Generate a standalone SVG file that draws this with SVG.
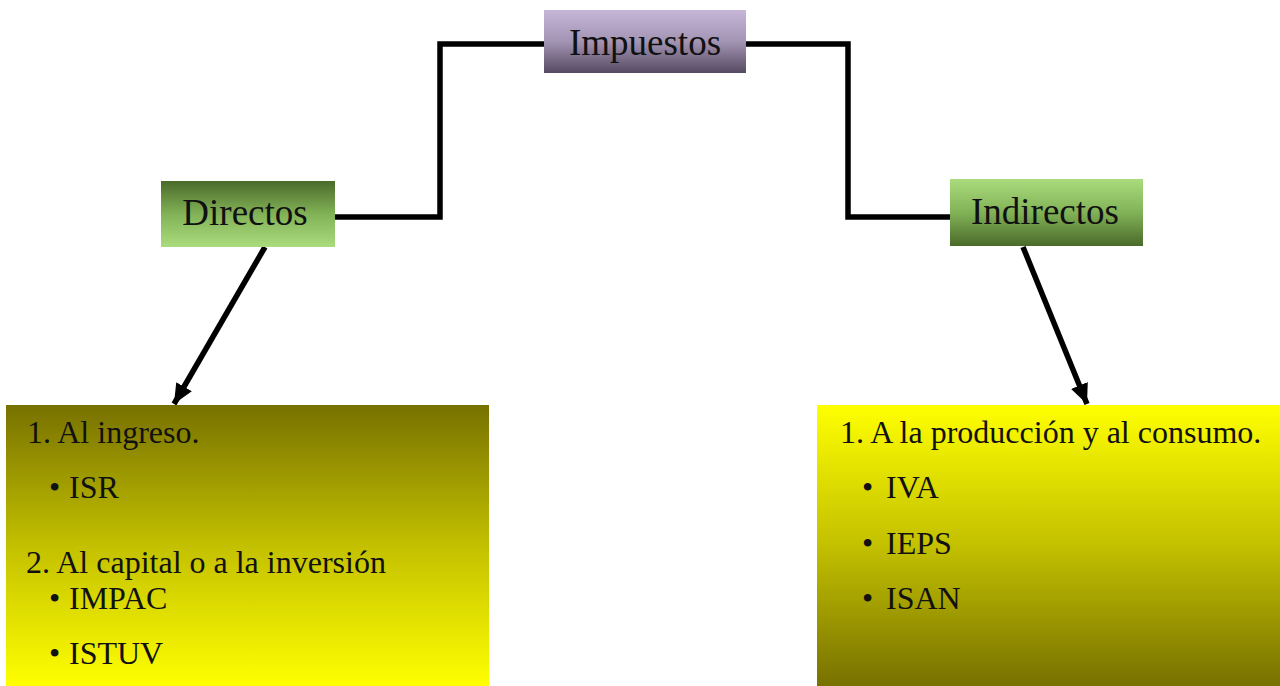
<svg xmlns="http://www.w3.org/2000/svg" width="1280" height="686" viewBox="0 0 1280 686">
<defs>
<linearGradient id="gPurple" x1="0" y1="0" x2="0" y2="1"><stop offset="0" stop-color="#c6b6d8"/><stop offset="0.5" stop-color="#a394b4"/><stop offset="1" stop-color="#564a62"/></linearGradient>
<linearGradient id="gGreenUp" x1="0" y1="0" x2="0" y2="1"><stop offset="0" stop-color="#4a6a2a"/><stop offset="0.5" stop-color="#82b257"/><stop offset="1" stop-color="#aadb7c"/></linearGradient>
<linearGradient id="gGreenDown" x1="0" y1="0" x2="0" y2="1"><stop offset="0" stop-color="#aadb7c"/><stop offset="0.5" stop-color="#82b257"/><stop offset="1" stop-color="#4a6a2a"/></linearGradient>
<linearGradient id="gYellowUp" x1="0" y1="0" x2="0" y2="1"><stop offset="0" stop-color="#777100"/><stop offset="0.5" stop-color="#c3c000"/><stop offset="1" stop-color="#ffff00"/></linearGradient>
<linearGradient id="gYellowDown" x1="0" y1="0" x2="0" y2="1"><stop offset="0" stop-color="#ffff00"/><stop offset="0.5" stop-color="#c3c000"/><stop offset="1" stop-color="#777100"/></linearGradient>
<marker id="arr" markerUnits="userSpaceOnUse" markerWidth="22" markerHeight="20" refX="20" refY="9" orient="auto"><path d="M0,0 L20,9 L0,18 Z" fill="#000"/></marker>
<style>
.t{font-family:"Liberation Serif","Times New Roman",serif;fill:#111}
.h{font-size:37px}
.l{font-size:32px}
.c{fill:none;stroke:#000;stroke-width:5.5}
</style>
</defs>
<g id="connectors">
<polyline class="c" points="544,44 440,44 440,217 334,217"/>
<polyline class="c" points="746,44 848,44 848,217 950,217"/>
<line class="c" x1="265" y1="247" x2="174" y2="404" marker-end="url(#arr)"/>
<line class="c" x1="1023" y1="247" x2="1087" y2="404" marker-end="url(#arr)"/>
</g>
<g id="impuestos">
<rect x="544" y="10" width="202" height="63" fill="url(#gPurple)"/>
<text class="t h" x="645" y="55" text-anchor="middle">Impuestos</text>
</g>
<g id="directos">
<rect x="161" y="181" width="174" height="66" fill="url(#gGreenUp)"/>
<text class="t h" x="245" y="225" text-anchor="middle">Directos</text>
</g>
<g id="indirectos">
<rect x="950" y="179" width="193" height="67" fill="url(#gGreenDown)"/>
<text class="t h" x="1045" y="224" text-anchor="middle">Indirectos</text>
</g>
<g id="directos-list">
<rect x="6" y="405" width="483" height="281" fill="url(#gYellowUp)"/>
<text class="t l" x="27" y="443">1. Al ingreso.</text>
<text class="t l" x="49" y="498">•</text><text class="t l" x="69" y="498">ISR</text>
<text class="t l" x="26" y="573">2. Al capital o a la inversión</text>
<text class="t l" x="49" y="609">•</text><text class="t l" x="69" y="609">IMPAC</text>
<text class="t l" x="49" y="664">•</text><text class="t l" x="69" y="664">ISTUV</text>
</g>
<g id="indirectos-list">
<rect x="817" y="405" width="463" height="281" fill="url(#gYellowDown)"/>
<text class="t l" x="840" y="443">1. A la producción y al consumo.</text>
<text class="t l" x="862" y="498">•</text><text class="t l" x="886" y="498">IVA</text>
<text class="t l" x="862" y="554">•</text><text class="t l" x="886" y="554">IEPS</text>
<text class="t l" x="862" y="609">•</text><text class="t l" x="886" y="609">ISAN</text>
</g>
</svg>
